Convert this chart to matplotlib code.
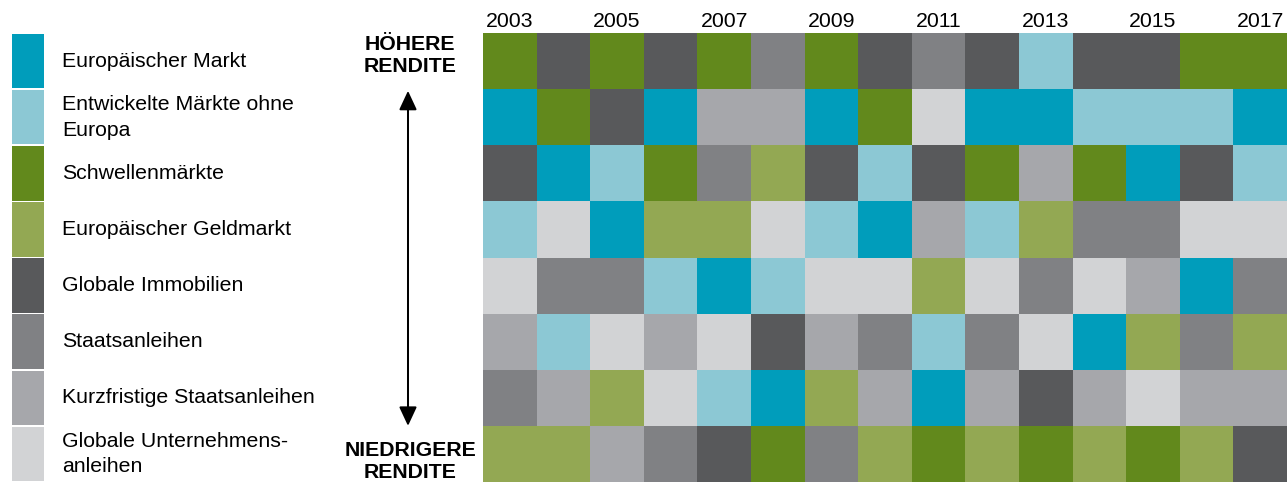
import numpy as np
import matplotlib.pyplot as plt
from matplotlib.colors import ListedColormap

plt.rcParams['font.family'] = ['Liberation Sans', 'DejaVu Sans']

# --- Daten ---
kategorien = ["Europäischer Markt", "Entwickelte Märkte ohne\nEuropa", "Schwellenmärkte",
              "Europäischer Geldmarkt", "Globale Immobilien", "Staatsanleihen",
              "Kurzfristige Staatsanleihen", "Globale Unternehmens-\nanleihen"]
farben = ["#009dbb", "#8cc8d4", "#62891c", "#93a853", "#58595b", "#808184", "#a6a7ab", "#d2d3d5"]
jahre = list(range(2003, 2018))

# Rang 1 (oben) bis 8 (unten), Indizes in kategorien
rang1 = [2, 4, 2, 4, 2, 5, 2, 4, 5, 4, 1, 4, 4, 2, 2]
rang2 = [0, 2, 4, 0, 6, 6, 0, 2, 7, 0, 0, 1, 1, 1, 0]
rang3 = [4, 0, 1, 2, 5, 3, 4, 1, 4, 2, 6, 2, 0, 4, 1]
rang4 = [1, 7, 0, 3, 3, 7, 1, 0, 6, 1, 3, 5, 5, 7, 7]
rang5 = [7, 5, 5, 1, 0, 1, 7, 7, 3, 7, 5, 7, 6, 0, 5]
rang6 = [6, 1, 7, 6, 7, 4, 6, 5, 1, 5, 7, 0, 3, 5, 3]
rang7 = [5, 6, 3, 7, 1, 0, 3, 6, 0, 6, 4, 6, 7, 6, 6]
rang8 = [3, 3, 6, 5, 4, 2, 5, 3, 2, 3, 2, 3, 2, 3, 4]
raenge = np.array([rang1, rang2, rang3, rang4, rang5, rang6, rang7, rang8])

W, H = 1287, 482
fig = plt.figure(figsize=(W / 100, H / 100), dpi=100)

# --- Matrix ---
ax = fig.add_axes([483 / W, 0, 804 / W, 449 / H])
x_edges = np.arange(jahre[0] - 0.5, jahre[-1] + 1.0, 1.0)
y_edges = np.arange(0, 9)
ax.pcolormesh(x_edges, y_edges, raenge, cmap=ListedColormap(farben), vmin=-0.5, vmax=7.5)
ax.set_xlim(x_edges[0], x_edges[-1])
ax.set_ylim(8, 0)
ax.xaxis.tick_top()
ax.set_xticks(jahre[::2])
ax.set_xticklabels([str(j) for j in jahre[::2]], fontsize=15.3)
ax.tick_params(axis='x', length=0, pad=1.5)
ax.set_yticks([])
for s in ax.spines.values():
    s.set_visible(False)

# --- Legende ---
lg = fig.add_axes([0, 0, 480 / W, 449 / H])
lg.set_xlim(0, 480)
lg.set_ylim(8, 0)
lg.axis('off')
pos = np.arange(len(kategorien)) + 0.5
lg.barh(pos, 32, left=12, height=0.97, color=farben)
for p, k in zip(pos, kategorien):
    lg.text(62, p, k, fontsize=15.3, va='center', ha='left', linespacing=1.45)

# Pfeil und Beschriftung
lg.annotate("", xy=(408, 1.03), xytext=(408, 7.0),
            arrowprops=dict(arrowstyle='<|-|>,head_length=0.58,head_width=0.27',
                            color='black', lw=1.45, mutation_scale=20, shrinkA=0, shrinkB=0))
lg.text(410, 0.4, "HÖHERE\nRENDITE", fontsize=15.3, fontweight='bold',
        ha='center', va='center', linespacing=1.2)
lg.text(410, 7.63, "NIEDRIGERE\nRENDITE", fontsize=15.3, fontweight='bold',
        ha='center', va='center', linespacing=1.2, clip_on=False)

plt.savefig("out.png", dpi=100)
